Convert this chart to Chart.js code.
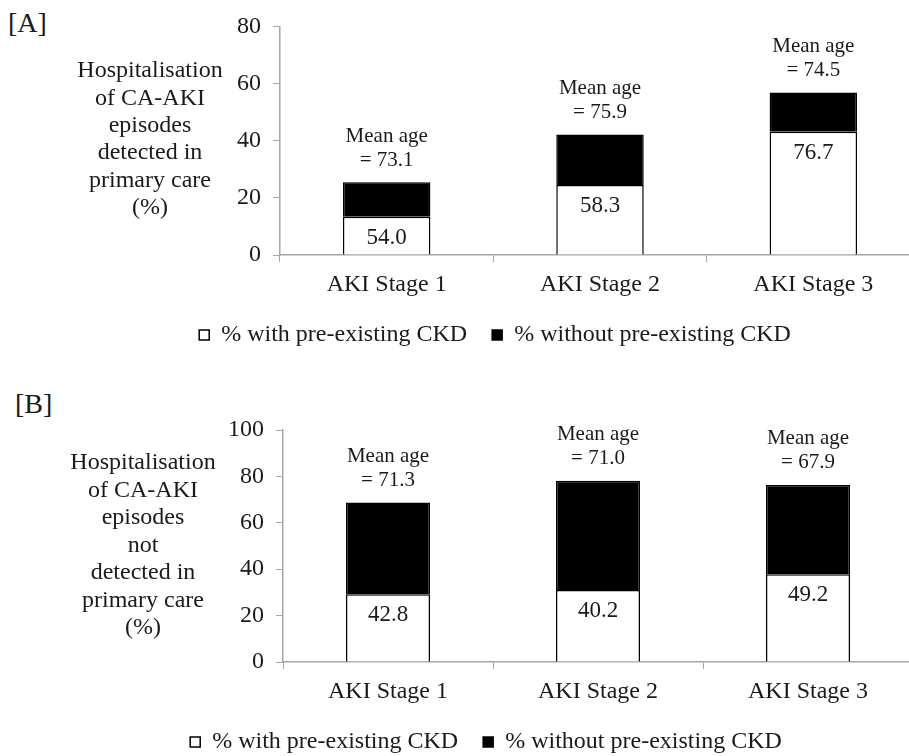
<!DOCTYPE html>
<html><head><meta charset="utf-8">
<script src="https://cdn.jsdelivr.net/npm/chart.js@4.4.1/dist/chart.umd.min.js"></script>
<style>
html,body{margin:0;padding:0;background:#fff;overflow:hidden;width:909px;height:756px;position:relative;}
.panel{position:absolute;}
.tag{position:absolute;font-family:"Liberation Serif",serif;font-size:28px;line-height:28px;color:#1a1a1a;}
</style></head><body>
<div class="tag" style="left:8px;top:9px">[A]</div>
<div class="tag" style="left:15px;top:390px">[B]</div>
<div class="panel" style="left:70px;top:0px"><canvas id="cA" width="860" height="357"></canvas></div>
<div class="panel" style="left:59px;top:380px"><canvas id="cB" width="864" height="384"></canvas></div>
<script>
// ---- data ----
const categories = ["AKI Stage 1", "AKI Stage 2", "AKI Stage 3"];
const seriesNames = ["% with pre-existing CKD", "% without pre-existing CKD"];

const withCkdA = [13.4, 24.5, 43.1];
const withoutCkdA = [12.1, 17.7, 13.8];
const insideLabelsA = ["54.0", "58.3", "76.7"];
const meanAgeA = ["73.1", "75.9", "74.5"];
const yTicksA = [0, 20, 40, 60, 80];
const yTitleA = ["Hospitalisation", "of CA-AKI", "episodes", "detected in", "primary care", "(%)"];

const withCkdB = [29.2, 31.0, 37.8];
const withoutCkdB = [39.5, 47.1, 38.5];
const insideLabelsB = ["42.8", "40.2", "49.2"];
const meanAgeB = ["71.3", "71.0", "67.9"];
const yTicksB = [0, 20, 40, 60, 80, 100];
const yTitleB = ["Hospitalisation", "of CA-AKI", "episodes", "not", "detected in", "primary care", "(%)"];

// ---- drawing ----
const F = '"Liberation Serif", "Times New Roman", serif';
const TXT = '#1a1a1a';
const AX = '#a6a6a6';
const FS = 24;

const annot = {
  id: 'annot',
  afterDatasetsDraw(chart, args, o) {
    const ctx = chart.ctx;
    const m0 = chart.getDatasetMeta(0), m1 = chart.getDatasetMeta(1);
    ctx.save();
    ctx.fillStyle = TXT;
    ctx.textAlign = 'center';
    ctx.textBaseline = 'middle';
    m1.data.forEach((bar, i) => {
      ctx.font = '21px ' + F;
      ctx.fillText('Mean age', bar.x, bar.y - 46);
      ctx.fillText('= ' + o.meanAge[i], bar.x, bar.y - 22);
      ctx.font = '23px ' + F;
      ctx.fillText(o.inside[i], m0.data[i].x, m0.data[i].y + 21);
    });
    ctx.font = FS + 'px ' + F;
    o.yTitle.forEach((t, k) => ctx.fillText(t, o.tx, o.ty + k * o.tgap));
    ctx.restore();
  }
};

function makeChart(id, p) {
  return new Chart(document.getElementById(id), {
    type: 'bar',
    data: {
      labels: categories,
      datasets: [
        { label: seriesNames[0], data: p.withCkd, backgroundColor: '#ffffff', borderColor: '#000', borderWidth: 1.5, borderSkipped: 'start' },
        { label: seriesNames[1], data: p.withoutCkd, backgroundColor: '#000000', borderColor: '#000', borderWidth: 1.5, borderSkipped: 'start' }
      ]
    },
    options: {
      responsive: false,
      animation: false,
      devicePixelRatio: 1,
      layout: { padding: { top: p.padTop, right: 10, bottom: 0, left: 0 } },
      datasets: { bar: { categoryPercentage: 1, barPercentage: p.barPct } },
      scales: {
        x: {
          stacked: true, offset: true,
          grid: { display: true, drawOnChartArea: false, drawTicks: true, tickLength: 7, color: AX, lineWidth: 1, offset: true },
          border: { display: true, color: AX, width: 1.5 },
          ticks: { font: { family: F, size: FS, lineHeight: 1 }, color: TXT, padding: 11, maxRotation: 0, autoSkip: false },
          afterFit: s => { s.height = 43; }
        },
        y: {
          stacked: true,
          min: p.yTicks[0], max: p.yTicks[p.yTicks.length - 1],
          afterBuildTicks: s => { s.ticks = p.yTicks.map(v => ({ value: v })); },
          grid: { drawOnChartArea: false, drawTicks: true, tickLength: 7, color: AX, lineWidth: 1 },
          border: { display: true, color: AX, width: 1.5 },
          ticks: { font: { family: F, size: FS }, color: TXT, padding: 12 },
          afterFit: s => { s.width = p.yAxisW; }
        }
      },
      plugins: {
        legend: {
          position: 'bottom',
          labels: { boxWidth: 10, boxHeight: 10, padding: 25, font: { family: F, size: FS }, color: TXT }
        },
        tooltip: { enabled: false },
        title: { display: false },
        annot: { meanAge: p.meanAge, inside: p.inside, yTitle: p.yTitle, tx: p.tx, ty: p.ty, tgap: p.tgap }
      }
    },
    plugins: [annot]
  });
}

makeChart('cA', {
  withCkd: withCkdA, withoutCkd: withoutCkdA, meanAge: meanAgeA, inside: insideLabelsA,
  yTicks: yTicksA, yTitle: yTitleA, padTop: 23, yAxisW: 210, barPct: 0.41,
  tx: 80, ty: 71, tgap: 27.4
});
makeChart('cB', {
  withCkd: withCkdB, withoutCkd: withoutCkdB, meanAge: meanAgeB, inside: insideLabelsB,
  yTicks: yTicksB, yTitle: yTitleB, padTop: 50, yAxisW: 224, barPct: 0.40,
  tx: 84, ty: 83, tgap: 27.5
});
</script>
</body></html>
